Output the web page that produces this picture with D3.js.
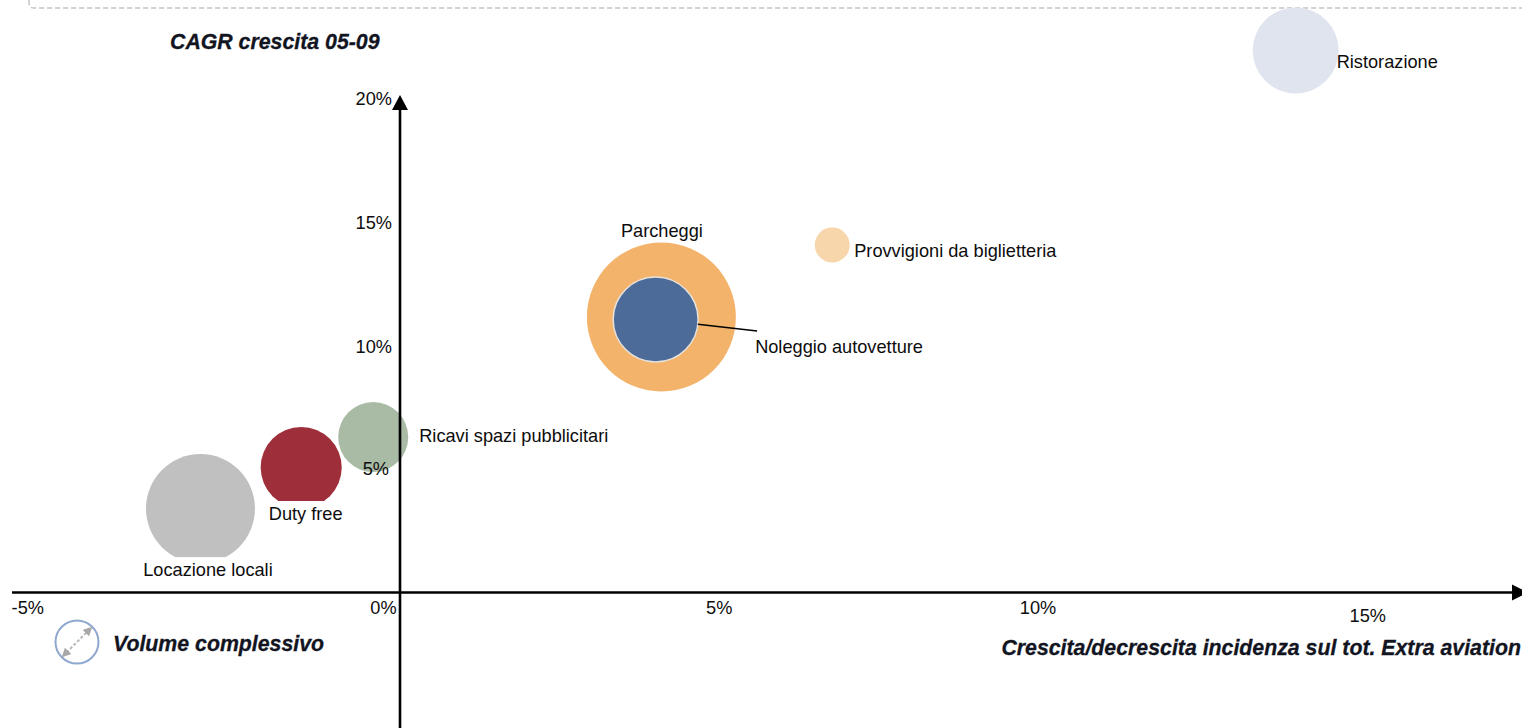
<!DOCTYPE html>
<html>
<head>
<meta charset="utf-8">
<script src="https://cdn.jsdelivr.net/npm/d3@7"></script>
<style>
  html, body { margin: 0; padding: 0; background: #fff; }
  svg { display: block; }
  text { font-family: "Liberation Sans", Arial, Helvetica, sans-serif; }
</style>
</head>
<body>
<svg id="chart" width="1522" height="728"></svg>
<script>
// Extra-aviation revenue lines:
// x = growth/decline of share on total extra-aviation (%), y = CAGR 05-09 (%), area = overall volume
const categories = ["Locazione locali", "Duty free", "Ricavi spazi pubblicitari", "Parcheggi",
                    "Noleggio autovetture", "Provvigioni da biglietteria", "Ristorazione"];
const shareChange = [-3.13, -1.55, -0.42, 4.10, 4.01, 6.78, 14.05];
const cagr        = [3.39, 5.05, 6.28, 11.13, 11.03, 14.04, 21.9];
const volume      = [53.5, 29.6, 22.1, 100, 32.5, 5.5, 33.3];
const xTicks = [-5, 0, 5, 10, 15];
const yTicks = [5, 10, 15, 20];

// fills per category
const fills = {
  "Locazione locali": "#c0c0c0",
  "Duty free": "#9e2f3a",
  "Ricavi spazi pubblicitari": "#a9bba4",
  "Parcheggi": "#f4b36a",
  "Noleggio autovetture": "#4c6b99",
  "Provvigioni da biglietteria": "#f8d6ab",
  "Ristorazione": "#dfe4ef"
};

// label placement relative to the bubble centre (px)
const labelLayout = {
  "Locazione locali":            { dx: 7.5, dy: 61.5, anchor: "middle", knockout: true },
  "Duty free":                   { dx: 4.5, dy: 46.5, anchor: "middle", knockout: true },
  "Ricavi spazi pubblicitari":   { dx: 46,  dy: -1,   anchor: "start" },
  "Parcheggi":                   { dx: 0.5, dy: -86,  anchor: "middle" },
  "Noleggio autovetture":        { dx: 99.5, dy: 27.5, anchor: "start", leader: [101.5, 11.5] },
  "Provvigioni da biglietteria": { dx: 22,  dy: 5.5,  anchor: "start" },
  "Ristorazione":                { dx: 41,  dy: 11,   anchor: "start" }
};

const svg = d3.select("#chart");
const W = 1522, H = 728;

const x = d3.scaleLinear().domain([0, 10]).range([400, 1037.5]);
const y = d3.scaleLinear().domain([0, 20]).range([592.5, 97.5]);
const r = d3.scaleSqrt().domain([0, 100]).range([0, 74.5]);

const data = categories.map((c, i) => ({ name: c, x: shareChange[i], y: cagr[i], v: volume[i] }));

// dashed frame edge along the top
svg.append("path")
  .attr("d", "M29,0 L29,3 Q29,8 34,8 L1522,8")
  .attr("fill", "none")
  .attr("stroke", "#c4c4c4")
  .attr("stroke-width", 1.5)
  .attr("stroke-dasharray", "5,3");

// bubbles
const bubbles = svg.append("g");
bubbles.selectAll("circle")
  .data(data)
  .join("circle")
  .attr("cx", d => x(d.x))
  .attr("cy", d => y(d.y))
  .attr("r", d => r(d.v))
  .attr("fill", d => fills[d.name])
  .attr("stroke", d => d.name === "Noleggio autovetture" ? "#e6e2dc" : "none")
  .attr("stroke-width", 1.5);

// category labels; white boxes behind labels sitting under their bubble
const labels = svg.append("g").attr("font-size", 18.2).attr("fill", "#0d0d0d");
data.forEach(d => {
  const L = labelLayout[d.name];
  const cx = x(d.x), cy = y(d.y);
  if (L.leader) {
    const ex = cx + L.leader[0], ey = cy + L.leader[1];
    const ang = Math.atan2(ey - cy, ex - cx);
    const rr = r(d.v);
    labels.append("line")
      .attr("x1", cx + rr * Math.cos(ang)).attr("y1", cy + rr * Math.sin(ang))
      .attr("x2", ex).attr("y2", ey)
      .attr("stroke", "#000").attr("stroke-width", 1.4);
  }
  const t = labels.append("text")
    .attr("x", cx + L.dx)
    .attr("y", cy + L.dy)
    .attr("dy", "0.35em")
    .attr("text-anchor", L.anchor)
    .text(d.name);
  if (L.knockout) {
    const bb = t.node().getBBox();
    labels.insert("rect", () => t.node())
      .attr("x", bb.x - 6).attr("y", cy + L.dy - 13)
      .attr("width", bb.width + 12).attr("height", 26)
      .attr("fill", "#fff");
  }
});

// axis lines with arrowheads
const axes = svg.append("g");
const xLeft = 12, xArrowBase = 1512, xArrowTip = 1528;
const yArrowTip = 95, yArrowBase = 110;
axes.append("line")
  .attr("x1", xLeft).attr("x2", xArrowBase)
  .attr("y1", y(0)).attr("y2", y(0))
  .attr("stroke", "#000").attr("stroke-width", 2.6);
axes.append("path")
  .attr("d", `M${xArrowBase},${y(0) - 8} L${xArrowTip},${y(0)} L${xArrowBase},${y(0) + 8} Z`)
  .attr("fill", "#000");
axes.append("line")
  .attr("x1", x(0)).attr("x2", x(0))
  .attr("y1", yArrowBase).attr("y2", H)
  .attr("stroke", "#000").attr("stroke-width", 2.6);
axes.append("path")
  .attr("d", `M${x(0) - 8},${yArrowBase} L${x(0)},${yArrowTip} L${x(0) + 8},${yArrowBase} Z`)
  .attr("fill", "#000");

// tick labels
const pct = d => d + "%";
const xLabelShift = { "-5": [-54, 0], "0": [-17, 0], "15": [11, 8] };
const xAxis = svg.append("g")
  .attr("transform", `translate(0,${y(0)})`)
  .call(d3.axisBottom(x).tickValues(xTicks).tickFormat(pct).tickSize(0).tickPadding(9));
xAxis.select(".domain").remove();
xAxis.selectAll("text")
  .attr("font-size", 18.2)
  .attr("font-family", "Liberation Sans, Arial, sans-serif")
  .attr("fill", "#0d0d0d")
  .attr("transform", d => {
    const s = xLabelShift[String(d)] || [0, 0];
    return `translate(${s[0]},${s[1]})`;
  });

const yAxis = svg.append("g")
  .attr("transform", `translate(${x(0)},0)`)
  .call(d3.axisLeft(y).tickValues(yTicks).tickFormat(pct).tickSize(0).tickPadding(8));
yAxis.select(".domain").remove();
yAxis.selectAll("text")
  .attr("font-size", 18.2)
  .attr("font-family", "Liberation Sans, Arial, sans-serif")
  .attr("fill", "#0d0d0d")
  .attr("transform", d => d === 5 ? "translate(-3,0)" : (d === 10 ? "translate(0,2)" : "translate(0,1)"));

// titles
const bold = svg.append("g")
  .attr("font-size", 21.3)
  .attr("font-weight", "bold")
  .attr("font-style", "italic")
  .attr("fill", "#12151f")
  .attr("stroke", "#12151f")
  .attr("stroke-width", 0.3);
bold.append("text").attr("x", 170).attr("y", 42).attr("dy", "0.35em").text("CAGR crescita 05-09");
bold.append("text").attr("x", 1521).attr("y", 648).attr("dy", "0.35em")
  .attr("text-anchor", "end").text("Crescita/decrescita incidenza sul tot. Extra aviation");
bold.append("text").attr("x", 113).attr("y", 644).attr("dy", "0.35em").text("Volume complessivo");

// legend glyph: circle with a double-headed diagonal arrow
const lg = svg.append("g").attr("transform", "translate(77,642)");
lg.append("circle").attr("r", 21.5).attr("fill", "#fff")
  .attr("stroke", "#8ea8cf").attr("stroke-width", 2);
const defs = svg.append("defs");
defs.append("marker")
  .attr("id", "legArrow")
  .attr("viewBox", "0 0 10 10").attr("refX", 8).attr("refY", 5)
  .attr("markerWidth", 4.5).attr("markerHeight", 4.5)
  .attr("orient", "auto-start-reverse")
  .append("path").attr("d", "M0,0 L10,5 L0,10 Z").attr("fill", "#a8a8a8");
lg.append("line")
  .attr("x1", -14).attr("y1", 14).attr("x2", 14).attr("y2", -14)
  .attr("stroke", "#b8b8b8").attr("stroke-width", 2)
  .attr("stroke-dasharray", "3,2")
  .attr("marker-start", "url(#legArrow)")
  .attr("marker-end", "url(#legArrow)");
</script>
</body>
</html>
